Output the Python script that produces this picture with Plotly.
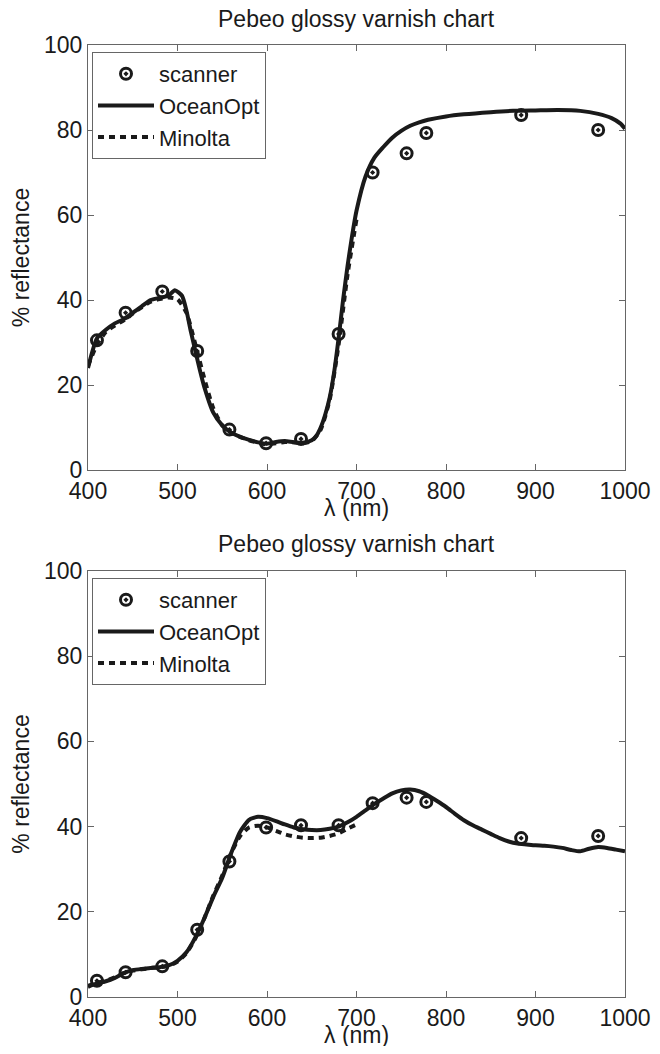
import plotly.graph_objects as go

# ---- data ----
scan_wl = [410, 442, 483, 522, 558, 599, 638, 680, 718, 756, 778, 884, 970]
scan_top = [30.5, 37.0, 42.0, 28.0, 9.5, 6.3, 7.3, 32.0, 70.0, 74.5, 79.3, 83.5, 80.0]
scan_bot = [3.8, 5.8, 7.2, 15.8, 31.8, 39.8, 40.3, 40.3, 45.5, 46.8, 45.8, 37.3, 37.8]

ocean_top_wl = [400, 405, 410, 420, 430, 440, 450, 460, 470, 480, 490, 497, 505, 510, 515,
                520, 525, 530, 540, 550, 560, 570, 580, 590, 600, 610, 620, 630, 640, 650,
                655, 660, 665, 670, 675, 680, 685, 690, 695, 700, 710, 720, 730, 740, 750,
                760, 770, 780, 800, 820, 850, 875, 900, 925, 950, 970, 985, 995, 1000]
ocean_top = [24.0, 28.0, 31.0, 33.0, 34.5, 35.5, 37.0, 38.5, 40.0, 40.5, 41.0, 42.3, 41.0, 37.5, 32.5,
             28.0, 23.5, 19.5, 13.5, 10.5, 8.8, 7.8, 7.1, 6.5, 6.2, 6.6, 6.8, 6.5, 6.4, 7.0,
             8.0, 10.0, 13.0, 17.0, 23.0, 31.0, 40.0, 48.0, 55.0, 61.0, 69.0, 73.5, 76.0, 78.2, 79.8,
             81.0, 81.8, 82.4, 83.2, 83.7, 84.2, 84.5, 84.6, 84.7, 84.5, 83.8, 82.8, 81.5, 80.3]

minolta_top_wl = [400, 410, 420, 430, 440, 450, 460, 470, 480, 490, 500, 510, 520, 530, 540,
                  550, 560, 570, 580, 590, 600, 610, 620, 630, 640, 650, 660, 670, 680, 690, 700]
minolta_top = [24.5, 29.5, 32.5, 34.0, 35.2, 36.8, 38.3, 39.6, 40.2, 40.6, 40.2, 37.0, 29.5, 21.5, 14.5,
               10.5, 8.8, 7.8, 7.0, 6.4, 6.0, 6.3, 6.6, 6.5, 6.3, 6.8, 9.5, 16.5, 29.5, 46.0, 59.0]

ocean_bot_wl = list(range(400, 1001, 10))
ocean_bot = [2.4, 3.2, 3.7, 4.5, 5.6, 6.3, 6.6, 6.8, 7.0, 7.4,
             8.5, 10.5, 14.0, 18.5, 23.5, 28.0, 33.8, 38.8, 41.6, 42.3,
             42.0, 41.3, 40.5, 39.8, 39.4, 39.2, 39.2, 39.5, 40.0, 41.0,
             42.3, 43.8, 45.3, 46.6, 47.8, 48.5, 48.7, 48.3, 47.3, 46.0,
             44.6, 43.0, 41.5, 40.3, 39.3, 38.3, 37.3, 36.5, 36.0, 35.8,
             35.6, 35.5, 35.3, 35.0, 34.5, 34.2, 34.8, 35.2, 35.0, 34.6, 34.2]

minolta_bot_wl = list(range(400, 701, 10))
minolta_bot = [2.6, 3.3, 3.8, 4.6, 5.6, 6.2, 6.5, 6.8, 7.0, 7.3,
               8.3, 10.3, 13.8, 18.5, 23.8, 28.5, 33.8, 37.8, 39.8, 40.2,
               39.8, 39.0, 38.2, 37.7, 37.4, 37.3, 37.4, 37.8, 38.4, 39.5, 40.5]

title_text = "Pebeo glossy varnish chart"
x_label = "λ (nm)"
y_label = "% reflectance"
x_ticks = [400, 500, 600, 700, 800, 900, 1000]
y_ticks = [0, 20, 40, 60, 80, 100]

INK = "#1a1a1a"
FONT = "Liberation Sans, Arial, sans-serif"

# page body adds an 8px margin, so the figure is 16px smaller than the window
OFF = 8
W, H = 660 - 2 * OFF, 1054 - 2 * OFF
# plot area in window pixels: x 88..625, y 45..997
L, R, T, B = 88 - OFF, W - (625 - OFF), 45 - OFF, H - (997 - OFF)
PW, PH = W - L - R, H - T - B


def py(pix):
    """window pixel row -> paper y"""
    return (H - B - (pix - OFF)) / PH


def px(pix):
    """window pixel column -> paper x"""
    return (pix - OFF - L) / PW


fig = go.Figure()

panels = [
    ("x", "y", "legend", scan_top, ocean_top_wl, ocean_top, minolta_top_wl, minolta_top),
    ("x2", "y2", "legend2", scan_bot, ocean_bot_wl, ocean_bot, minolta_bot_wl, minolta_bot),
]
for xa, ya, lg, scan, owl, oval, mwl, mval in panels:
    fig.add_trace(go.Scatter(
        x=scan_wl, y=scan, mode="markers", name="scanner", xaxis=xa, yaxis=ya, legend=lg,
        marker=dict(symbol="circle-open-dot", size=11, color=INK, line=dict(width=3, color=INK)),
    ))
    fig.add_trace(go.Scatter(
        x=owl, y=oval, mode="lines", name="OceanOpt", xaxis=xa, yaxis=ya, legend=lg,
        line=dict(color=INK, width=4, shape="spline", smoothing=0.6),
    ))
    fig.add_trace(go.Scatter(
        x=mwl, y=mval, mode="lines", name="Minolta", xaxis=xa, yaxis=ya, legend=lg,
        line=dict(color=INK, width=4, dash="6px,5px", shape="spline", smoothing=0.6),
    ))

axis_common = dict(
    showgrid=False, zeroline=False, showline=True, linecolor="#666", linewidth=1,
    mirror="ticks", ticks="inside", ticklen=6, tickcolor="#666", automargin=False,
    tickfont=dict(size=23, color=INK, family=FONT),
)
top_dom = [py(470), 1.0]
bot_dom = [0.0, py(571)]

yt = dict(text=y_label, font=dict(size=23), standoff=7)

legend_common = dict(
    x=px(92), xanchor="left", yanchor="top", bgcolor="white",
    bordercolor="#666", borderwidth=1, font=dict(size=22, color=INK, family=FONT),
    tracegroupgap=0, itemwidth=56,
)


def label(text, x, y):
    return dict(text=text, x=px(x), y=py(y), xref="paper", yref="paper", showarrow=False,
                xanchor="center", yanchor="middle", font=dict(size=23, color=INK))


fig.update_layout(
    width=W, height=H, margin=dict(l=L, r=R, t=T, b=B, autoexpand=False),
    paper_bgcolor="white", plot_bgcolor="white",
    font=dict(family=FONT, color=INK),
    xaxis=dict(axis_common, range=[400, 1000], tickvals=x_ticks, anchor="y"),
    yaxis=dict(axis_common, domain=top_dom, range=[0, 100], tickvals=y_ticks, anchor="x", title=yt),
    xaxis2=dict(axis_common, range=[400, 1000], tickvals=x_ticks, anchor="y2"),
    yaxis2=dict(axis_common, domain=bot_dom, range=[0, 100], tickvals=y_ticks, anchor="x2", title=yt),
    legend=dict(legend_common, y=py(52)),
    legend2=dict(legend_common, y=py(578)),
    annotations=[
        label(title_text, 356, 19),
        label(x_label, 356, 508),
        label(title_text, 356, 544),
        label(x_label, 356, 1035),
    ],
)

fig.write_html("out.html")
